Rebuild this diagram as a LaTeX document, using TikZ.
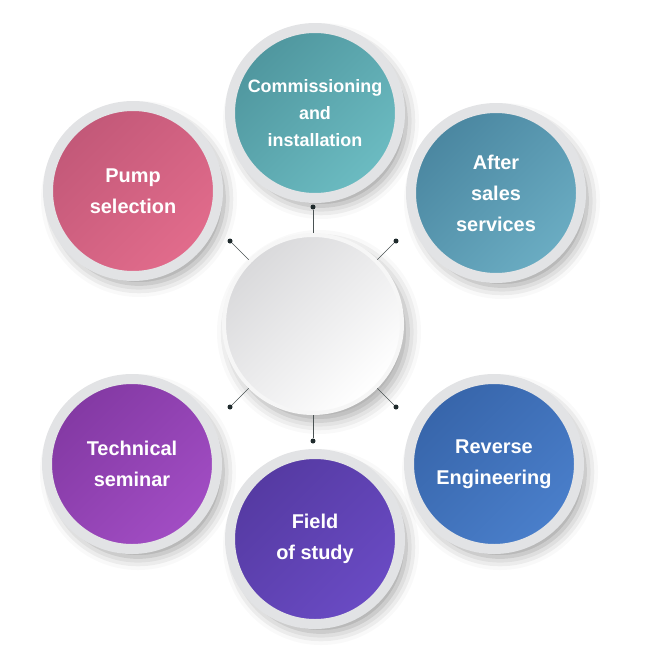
\documentclass[tikz,border=0pt]{standalone}
\usepackage{fontspec}
\setmainfont{Liberation Sans}
\usepackage{xcolor}
\usepackage{tikz}
\usetikzlibrary{shadows.blur}
\definecolor{ring}{HTML}{E2E3E5}
\definecolor{rim}{HTML}{F6F6F6}
\definecolor{hubDk}{HTML}{D9D9DB}
\definecolor{pin}{HTML}{1F2A2C}
\definecolor{wire}{HTML}{4A5253}
\definecolor{tealDk}{HTML}{4F969E}
\definecolor{teal}{HTML}{6CBCC2}
\definecolor{steelDk}{HTML}{4A86A0}
\definecolor{steel}{HTML}{6BADC3}
\definecolor{roseDk}{HTML}{C25878}
\definecolor{rose}{HTML}{E26C8C}
\definecolor{cobaltDk}{HTML}{3765AA}
\definecolor{cobalt}{HTML}{4A7FCB}
\definecolor{indigoDk}{HTML}{553AA2}
\definecolor{indigo}{HTML}{6A4BC4}
\definecolor{violetDk}{HTML}{8339A3}
\definecolor{violet}{HTML}{A24DC4}

\begin{document}
\begin{tikzpicture}[x=1bp, y=-1bp,
    topic/.style 2 args={circle, minimum size=170bp, inner sep=0pt,
      draw=ring, line width=10bp, top color=#1, bottom color=#2,
      shading angle=45, text=white, align=center,
      font=\bfseries\fontsize{20}{31}\selectfont,
      blur shadow={shadow xshift=6bp, shadow yshift=-8bp,
        shadow blur radius=13bp, shadow opacity=40}},
    pindot/.style={circle, fill=pin, minimum size=5bp, inner sep=0pt},
    link/.style={draw=wire, line width=0.6bp}]
  \useasboundingbox (0,0) rectangle (650,650);

  % outer topics
  \node[topic={tealDk}{teal}, font=\bfseries\fontsize{18}{27}\selectfont]
    (commission) at (315,113) {Commissioning\\and\\installation};
  \node[topic={steelDk}{steel}] (aftersales) at (496,193) {After\\sales\\services};
  \node[topic={roseDk}{rose}] (pump) at (133,191) {Pump\\selection};
  \node[topic={violetDk}{violet}] (seminar) at (132,464) {Technical\\seminar};
  \node[topic={cobaltDk}{cobalt}] (reverse) at (494,464) {Reverse\\Engineering};
  \node[topic={indigoDk}{indigo}] (field) at (315,539) {Field\\of study};

  % hub and its pins
  \node[circle, minimum size=178bp, draw=rim, line width=4bp,
        top color=hubDk, bottom color=white, shading angle=45,
        blur shadow={shadow xshift=6bp, shadow yshift=-8bp,
          shadow blur radius=13bp, shadow opacity=35}] (hub) at (313,324) {};
  \node[pindot] (pinT)  at (313,207) {};
  \node[pindot] (pinTL) at (230,241) {};
  \node[pindot] (pinTR) at (396,241) {};
  \node[pindot] (pinBL) at (230,407) {};
  \node[pindot] (pinBR) at (396,407) {};
  \node[pindot] (pinB)  at (313,441) {};
  \draw[link] (pinT) -- (hub);
  \draw[link] (pinTL) -- (hub);
  \draw[link] (pinTR) -- (hub);
  \draw[link] (pinBL) -- (hub);
  \draw[link] (pinBR) -- (hub);
  \draw[link] (pinB) -- (hub);
\end{tikzpicture}
\end{document}
